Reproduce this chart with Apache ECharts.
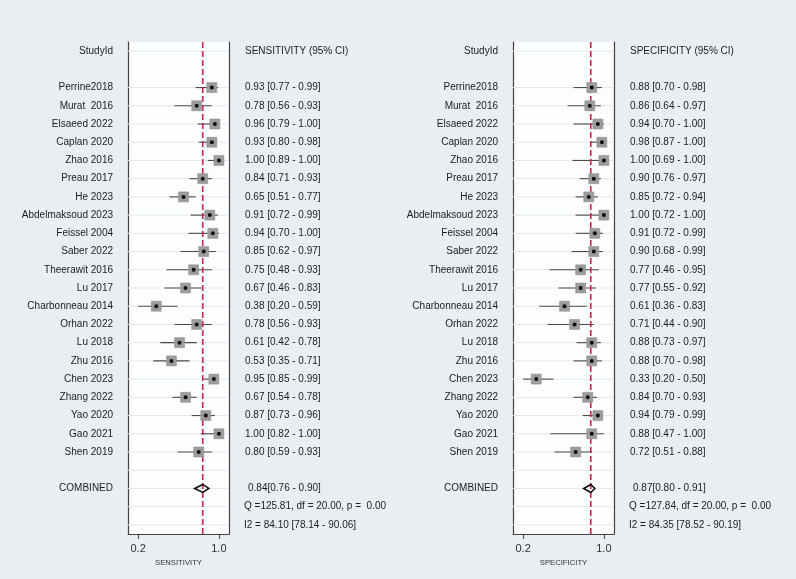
<!DOCTYPE html>
<html><head><meta charset="utf-8">
<script src="https://cdn.jsdelivr.net/npm/echarts@6/dist/echarts.min.js"></script>
<style>html,body{margin:0;padding:0;background:#e9eef2}#c{width:796px;height:579px}</style>
</head><body><div id="c"></div>
<script>
const studies = ['Perrine2018','Murat  2016','Elsaeed 2022','Caplan 2020','Zhao 2016','Preau 2017','He 2023','Abdelmaksoud 2023','Feissel 2004','Saber 2022','Theerawit 2016','Lu 2017','Charbonneau 2014','Orhan 2022','Lu 2018','Zhu 2016','Chen 2023','Zhang 2022','Yao 2020','Gao 2021','Shen 2019'];
const sensEst = [0.93,0.78,0.96,0.93,1.00,0.84,0.65,0.91,0.94,0.85,0.75,0.67,0.38,0.78,0.61,0.53,0.95,0.67,0.87,1.00,0.80];
const sensLo  = [0.77,0.56,0.79,0.80,0.89,0.71,0.51,0.72,0.70,0.62,0.48,0.46,0.20,0.56,0.42,0.35,0.85,0.54,0.73,0.82,0.59];
const sensHi  = [0.99,0.93,1.00,0.98,1.00,0.93,0.77,0.99,1.00,0.97,0.93,0.83,0.59,0.93,0.78,0.71,0.99,0.78,0.96,1.00,0.93];
const specEst = [0.88,0.86,0.94,0.98,1.00,0.90,0.85,1.00,0.91,0.90,0.77,0.77,0.61,0.71,0.88,0.88,0.33,0.84,0.94,0.88,0.72];
const specLo  = [0.70,0.64,0.70,0.87,0.69,0.76,0.72,0.72,0.72,0.68,0.46,0.55,0.36,0.44,0.73,0.70,0.20,0.70,0.79,0.47,0.51];
const specHi  = [0.98,0.97,1.00,1.00,1.00,0.97,0.94,1.00,0.99,0.99,0.95,0.92,0.83,0.90,0.97,0.98,0.50,0.93,0.99,1.00,0.88];
const sensCombined = [0.84, 0.76, 0.90];
const specCombined = [0.87, 0.80, 0.91];
const sensStats = ['Q =125.81, df = 20.00, p =  0.00', 'I2 = 84.10 [78.14 - 90.06]'];
const specStats = ['Q =127.84, df = 20.00, p =  0.00', 'I2 = 84.35 [78.52 - 90.19]'];
const xTicks = [0.2, 1.0];
const panelTitles = ['SENSITIVITY', 'SPECIFICITY'];
const idHeader = 'StudyId';
const combinedLabel = 'COMBINED';

const FONT = '"Liberation Sans", Arial, Helvetica, sans-serif';
const TXT = '#1c1c1c';
const n = studies.length;
const headerRow = 0, firstRow = 2, combRow = firstRow + n + 1, qRow = combRow + 1, i2Row = combRow + 2;
const gridRows = [headerRow];
for (let r = firstRow; r <= i2Row; r++) gridRows.push(r);

const f2 = v => v.toFixed(2);

function panel(gi, title, est, lo, hi, comb, stats) {
  const rows = [];
  rows.push({row: headerRow, left: idHeader, right: title + ' (95% CI)', off: 16});
  for (let i = 0; i < n; i++) rows.push({row: firstRow + i, left: studies[i], right: f2(est[i]) + ' [' + f2(lo[i]) + ' - ' + f2(hi[i]) + ']', off: 16});
  rows.push({row: combRow, left: combinedLabel, right: f2(comb[0]) + '[' + f2(comb[1]) + ' - ' + f2(comb[2]) + ']', off: 19});
  rows.push({row: qRow, right: stats[0], off: 15});
  rows.push({row: i2Row, right: stats[1], off: 15});
  const base = {xAxisIndex: gi, yAxisIndex: gi * 2, silent: true};
  return [
    Object.assign({type: 'custom', z: 1, data: gridRows.map(r => [0.5, r]), encode: {x: 0, y: 1},
      renderItem: (p, api) => {
        const cs = p.coordSys; const y = api.coord([0.5, api.value(1)])[1];
        return {type: 'line', shape: {x1: cs.x, y1: y, x2: cs.x + cs.width, y2: y}, style: {stroke: '#e1e9ee', lineWidth: 1}};
      }}, base),
    Object.assign({type: 'custom', z: 2, data: est.map((e, i) => [lo[i], hi[i], firstRow + i]), encode: {x: [0, 1], y: 2},
      renderItem: (p, api) => {
        const a = api.coord([api.value(0), api.value(2)]), b = api.coord([api.value(1), api.value(2)]);
        return {type: 'line', shape: {x1: a[0], y1: a[1], x2: b[0], y2: b[1]}, style: {stroke: '#4a4a4a', lineWidth: 1.1}};
      }}, base),
    Object.assign({type: 'custom', z: 3, data: [[comb[0], 0]], encode: {x: 0, y: 1},
      renderItem: (p, api) => {
        const cs = p.coordSys; const x = api.coord([api.value(0), 0])[0];
        return {type: 'line', shape: {x1: x, y1: cs.y, x2: x, y2: cs.y + cs.height}, style: {stroke: '#d41f4c', lineWidth: 1.6, lineDash: [6, 3]}};
      }}, base),
    Object.assign({type: 'scatter', z: 4, symbol: 'rect', symbolSize: 10, itemStyle: {color: '#9c9c9c', borderColor: '#8a8a8a', borderWidth: 0.5, opacity: 1},
      data: est.map((e, i) => [e, firstRow + i])}, base),
    Object.assign({type: 'scatter', z: 5, symbol: 'circle', symbolSize: 4, itemStyle: {color: '#0d0d0d', opacity: 1},
      data: est.map((e, i) => [e, firstRow + i])}, base),
    Object.assign({type: 'custom', z: 5, data: [[comb[0], comb[1], comb[2], combRow]], encode: {x: [0, 1, 2], y: 3},
      renderItem: (p, api) => {
        const r = api.value(3);
        const c = api.coord([api.value(0), r]), l = api.coord([api.value(1), r]), h = api.coord([api.value(2), r]);
        return {type: 'polygon', shape: {points: [[l[0], c[1]], [c[0], c[1] - 4], [h[0], c[1]], [c[0], c[1] + 4]]},
          style: {fill: 'rgba(255,255,255,0)', stroke: '#111', lineWidth: 1.6}};
      }}, base),
    Object.assign({type: 'custom', z: 6, clip: false, data: rows.map(r => [0.5, r.row]), encode: {x: 0, y: 1},
      renderItem: (p, api) => {
        const r = rows[p.dataIndex]; const cs = p.coordSys;
        const y = api.coord([0.5, r.row])[1];
        const ch = [];
        if (r.left) ch.push({type: 'text', x: cs.x - 15, y: y, style: {text: r.left, align: 'right', verticalAlign: 'middle', fill: TXT, fontSize: 10, fontFamily: FONT}});
        if (r.right) ch.push({type: 'text', x: cs.x + cs.width + r.off, y: y, style: {text: r.right, align: 'left', verticalAlign: 'middle', fill: TXT, fontSize: 10, fontFamily: FONT}});
        return {type: 'group', children: ch};
      }}, base)
  ];
}

const grids = [{left: 128, top: 42, width: 101, height: 492}, {left: 513, top: 42, width: 101, height: 492}];
const xAxes = panelTitles.map((t, gi) => ({
  type: 'value', gridIndex: gi, min: 0.1, max: 1.1,
  name: t, nameLocation: 'middle', nameGap: 21, nameTextStyle: {fontSize: 7.7, color: '#333', fontFamily: FONT},
  axisLine: {show: true, onZero: false, lineStyle: {color: '#444', width: 1.2}},
  axisTick: {show: true, customValues: xTicks, length: 5, lineStyle: {color: '#444'}},
  axisLabel: {show: true, customValues: xTicks, formatter: v => v.toFixed(1), fontSize: 11, color: '#333', margin: 9, fontFamily: FONT},
  splitLine: {show: false}
}));
const yAxes = [];
[0, 1].forEach(gi => ['left', 'right'].forEach(pos => yAxes.push({
  type: 'value', gridIndex: gi, position: pos, min: -0.5, max: i2Row + 0.5, inverse: true,
  axisLine: {show: true, onZero: false, lineStyle: {color: '#444', width: 1.2}},
  axisTick: {show: false}, axisLabel: {show: false}, splitLine: {show: false}
})));

const series = [].concat(
  panel(0, panelTitles[0], sensEst, sensLo, sensHi, sensCombined, sensStats),
  panel(1, panelTitles[1], specEst, specLo, specHi, specCombined, specStats)
);

const chart = echarts.init(document.getElementById('c'), null, {renderer: 'canvas'});
chart.setOption({
  animation: false,
  backgroundColor: '#e9eef2',
  grid: grids.map(g => Object.assign({show: true, backgroundColor: '#fcfdfe', borderWidth: 0}, g)),
  xAxis: xAxes,
  yAxis: yAxes,
  series: series
});
</script></body></html>
